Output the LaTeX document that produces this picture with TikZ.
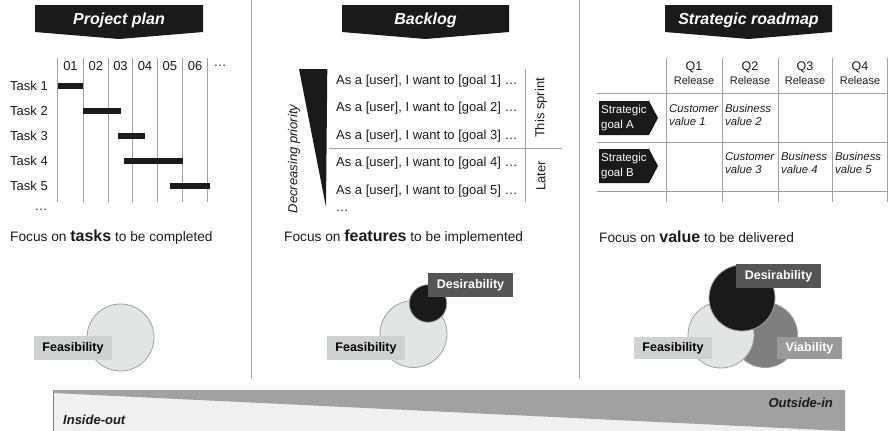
\documentclass[tikz,border=0pt]{standalone}
\usepackage{fontspec}
\setmainfont{Liberation Sans}
\definecolor{ink}{HTML}{1A1A1A}
\definecolor{rule}{HTML}{A0A0A0}
\definecolor{pale}{HTML}{E3E4E4}
\definecolor{tag}{HTML}{D0D1D1}
\definecolor{dtag}{HTML}{555555}
\definecolor{mid}{HTML}{7F7F7F}
\definecolor{vtag}{HTML}{9A9A9A}
\definecolor{bandd}{HTML}{A0A1A0}
\definecolor{bandl}{HTML}{F0F0F0}
\tikzset{
  title/.style={text=white,font=\bfseries\itshape\fontsize{16}{16}\selectfont,inner sep=0pt},
  txt/.style={font=\fontsize{13}{13}\selectfont,inner sep=0pt,text=ink},
  focus/.style={font=\fontsize{13.7}{13.7}\selectfont,inner sep=0pt,text=ink,anchor=west},
  grid/.style={draw=rule,line width=0.8pt},
  bar/.style={fill=ink},
  cell/.style={font=\itshape\fontsize{11.3}{13.5}\selectfont,inner sep=0pt,text=ink,anchor=north west,align=left},
  goal/.style={font=\fontsize{11.5}{14.5}\selectfont,text=white,inner sep=0pt,anchor=west,align=left},
  lbl/.style={font=\bfseries\fontsize{12.5}{12.5}\selectfont,inner sep=0pt,minimum height=24pt},
  venn/.style={circle,inner sep=0pt,draw=rule,line width=0.8pt},
  band/.style={font=\bfseries\itshape\fontsize{13}{13}\selectfont,inner sep=0pt,text=ink}
}
\newcommand{\focusword}[1]{{\bfseries\fontsize{16}{16}\selectfont #1}}
\begin{document}
\begin{tikzpicture}[x=1pt,y=-1pt]
\useasboundingbox (0,0) rectangle (889,431);

% column separators
\draw[grid] (251,0) -- (251,378);
\draw[grid] (579,0) -- (579,378);

% title banners
\foreach \l/\r/\t/\n in {35/203/Project plan/tplan, 342/509/Backlog/tback, 665/832/Strategic roadmap/tmap}{
  \fill[ink] (\l,5) -- (\r,5) -- (\r,32) -- ({(\l+\r)/2},39) -- (\l,32) -- cycle;
  \node[title] (\n) at ({(\l+\r)/2},20) {\t};
}

% ---------- Gantt chart ----------
\foreach \x in {57.7,83.3,108.3,132.7,157.3,182.3,207.7}
  \draw[grid] (\x,58) -- (\x,202);
\foreach \c/\x in {01/70.5,02/95.8,03/120.5,04/145,05/169.8,06/195}
  \node[txt] (h\c) at (\x,66) {\c};
\node[txt] (hmore) at (220,66) {…};
\foreach \i/\y in {1/86,2/111,3/136,4/161,5/186}
  \node[txt,anchor=west] (task\i) at (10,\y) {Task \i};
\node[txt] (taskmore) at (41,210) {…};
\fill[bar] (57.7,83) rectangle (83.3,89);
\fill[bar] (83.3,108) rectangle (120.7,114);
\fill[bar] (118,133) rectangle (145,139);
\fill[bar] (124,158) rectangle (183,164);
\fill[bar] (170,183) rectangle (210,189);

% ---------- Backlog ----------
\fill[ink] (299,69) -- (327.3,69) -- (326,207) -- cycle;
\node[txt,font=\itshape\fontsize{13}{13}\selectfont,rotate=90] (prio) at (294,159) {Decreasing priority};
\foreach \i/\y in {1/81,2/108,3/136,4/163,5/191}
  \node[txt,anchor=west] (story\i) at (336,\y) {As a [user], I want to [goal \i] …};
\node[txt] (storymore) at (342,211) {…};
\draw[grid] (525,69) -- (525,202);
\draw[grid] (329,148) -- (562,148);
\node[txt,rotate=90] (sprint) at (541,108) {This sprint};
\node[txt,rotate=90] (later) at (541,176) {Later};

% ---------- Strategic roadmap ----------
\foreach \x in {666,722,778,832,887}
  \draw[grid] (\x,58) -- (\x,202);
\foreach \y in {93,142,191}
  \draw[grid] (597,\y) -- (887,\y);
\foreach \q/\x in {1/694,2/750,3/805,4/860}{
  \node[txt,font=\fontsize{12.5}{12.5}\selectfont] (q\q) at (\x,67) {Q\q};
  \node[txt,font=\fontsize{11}{11}\selectfont] (rel\q) at (\x,81) {Release};
}
\fill[ink] (599,101) -- (649,101) -- (658,118) -- (649,135) -- (599,135) -- cycle;
\node[goal] (goalA) at (601,118) {Strategic\\goal A};
\fill[ink] (599,149) -- (649,149) -- (658,166) -- (649,183) -- (599,183) -- cycle;
\node[goal] (goalB) at (601,166) {Strategic\\goal B};
\node[cell] (v1) at (669,104) {Customer\\value 1};
\node[cell] (v2) at (725,104) {Business\\value 2};
\node[cell] (v3) at (725,152) {Customer\\value 3};
\node[cell] (v4) at (781,152) {Business\\value 4};
\node[cell] (v5) at (835,152) {Business\\value 5};

% ---------- focus lines ----------
\node[focus] (f1) at (10,237) {Focus on \focusword{tasks} to be completed};
\node[focus] (f2) at (284,237) {Focus on \focusword{features} to be implemented};
\node[focus] (f3) at (599,237) {Focus on \focusword{value} to be delivered};

% ---------- Venn diagrams ----------
\node[venn,fill=pale,minimum size=67pt] (feas1) at (120.5,337.5) {};
\node[lbl,fill=tag,minimum width=78pt] (feas1l) at (73,348) {Feasibility};

\node[venn,fill=pale,minimum size=67pt] (feas2) at (413.5,334) {};
\node[venn,fill=ink,minimum size=37.5pt] (des2) at (428,303.5) {};
\node[lbl,fill=dtag,text=white,minimum width=85pt] (des2l) at (470.5,285) {Desirability};
\node[lbl,fill=tag,minimum width=78pt] (feas2l) at (366,348) {Feasibility};

\node[venn,fill=mid,minimum size=65pt] (via3) at (765,335) {};
\node[venn,fill=pale,minimum size=66pt] (feas3) at (721,335) {};
\node[venn,fill=ink,minimum size=66pt] (des3) at (742,298) {};
\node[lbl,fill=dtag,text=white,minimum width=85pt] (des3l) at (778.5,276) {Desirability};
\node[lbl,fill=tag,minimum width=78pt,minimum height=22pt] (feas3l) at (673,348) {Feasibility};
\node[lbl,fill=vtag,text=white,minimum width=65pt,minimum height=22pt] (via3l) at (809.5,348) {Viability};

% ---------- inside-out / outside-in band ----------
\fill[bandl] (53,390) rectangle (845,431);
\fill[bandd] (53,390) -- (845,390) -- (845,431) -- (53,393) -- cycle;
\draw[draw=mid,line width=0.8pt] (53,390) -- (53,431);
\node[band,anchor=west] (inout) at (63,420) {Inside-out};
\node[band,anchor=east] (outin) at (833,403) {Outside-in};
\end{tikzpicture}
\end{document}
